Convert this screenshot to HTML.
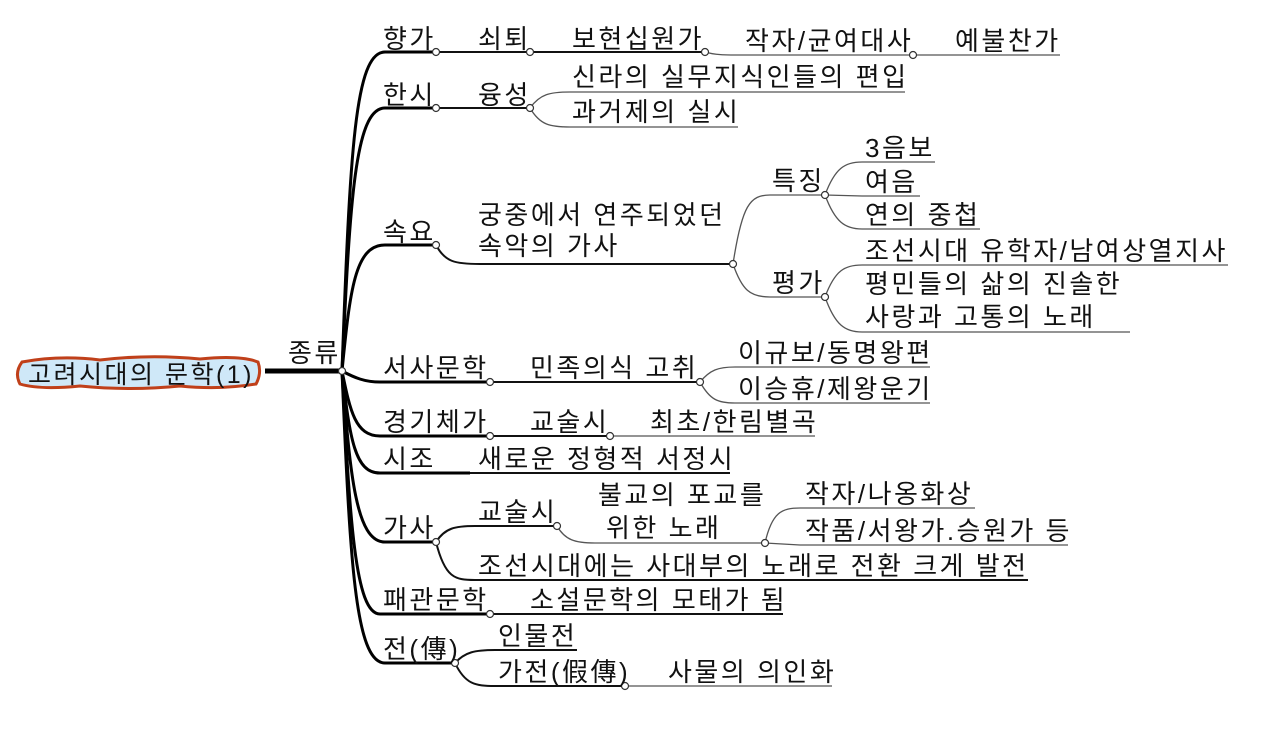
<!DOCTYPE html>
<html><head><meta charset="utf-8"><style>
html,body{margin:0;padding:0;background:#fff;}
svg{display:block;}
text{font-family:"Liberation Sans","Noto Sans CJK KR","NanumGothic",sans-serif;font-size:26px;letter-spacing:2.5px;fill:#111;}
.l1{stroke:#000;stroke-width:3;fill:none;}
.l2{stroke:#111;stroke-width:2;fill:none;}
.l3{stroke:#555;stroke-width:1.3;fill:none;}
circle{fill:#fff;stroke:#333;stroke-width:1.2;}
</style></head><body>
<svg width="1266" height="731" viewBox="0 0 1266 731" xmlns="http://www.w3.org/2000/svg">
<path d="M22,362 Q60,355 100,360 Q150,354 200,359 Q240,355 258,362 Q262,373 256,384 Q220,390 180,386 Q130,391 80,386 Q40,390 20,384 Q14,373 22,362 Z" fill="#cfe8f8" stroke="#c0401a" stroke-width="3"/>
<text x="28" y="383" style="font-size:25px">고려시대의 문학(1)</text>
<line x1="265" y1="371" x2="342" y2="371" stroke="#000" stroke-width="5"/>
<text x="288" y="362">종류</text>
<g class="l1">
<path d="M342,371 C350,150 355,52 385,52"/><line x1="385" y1="52" x2="436" y2="52"/>
<path d="M342,371 C350,200 355,108 385,108"/><line x1="385" y1="108" x2="436" y2="108"/>
<path d="M342,371 C350,290 355,245 385,245"/><line x1="385" y1="245" x2="436" y2="245"/>
<path d="M342,371 C355,378 365,382 380,382"/><line x1="380" y1="382" x2="490" y2="382"/>
<path d="M342,371 C350,410 355,436 380,436"/><line x1="380" y1="436" x2="490" y2="436"/>
<path d="M342,371 C350,440 355,473 380,473"/><line x1="380" y1="473" x2="470" y2="473"/>
<path d="M342,371 C350,470 355,542 385,542"/><line x1="385" y1="542" x2="436" y2="542"/>
<path d="M342,371 C350,520 355,614 380,614"/><line x1="380" y1="614" x2="490" y2="614"/>
<path d="M342,371 C350,560 355,663 385,663"/><line x1="385" y1="663" x2="455" y2="663"/>
</g>
<g class="l2">
<line x1="436" y1="52" x2="530" y2="52"/>
<line x1="530" y1="52" x2="705" y2="52"/>
<line x1="436" y1="108" x2="530" y2="108"/>
<path d="M436,245 C445,262 455,264 480,264 L733,264"/>
<line x1="490" y1="382" x2="700" y2="382"/>
<line x1="490" y1="436" x2="610" y2="436"/>
<line x1="470" y1="473" x2="730" y2="473"/>
<path d="M436,542 C445,528 455,526 475,526 L557,526"/>
<path d="M436,542 C445,578 455,580 475,580 L1028,580"/>
<line x1="490" y1="614" x2="783" y2="614"/>
<path d="M455,663 C465,652 475,650 495,650 L577,650"/>
<path d="M455,663 C465,684 475,686 495,686 L625,686"/>
</g>
<g class="l3">
<path d="M705,52 C715,55 725,55 740,55 L913,55 L1060,55"/>
<path d="M530,108 C540,94 550,92 570,92 L905,92"/>
<path d="M530,108 C540,125 550,127 570,127 L738,127"/>
<path d="M733,264 C742,205 750,195 770,195 L825,195"/>
<path d="M733,264 C742,290 750,297 770,297 L825,297"/>
<path d="M825,195 C835,168 845,162 862,162 L935,162"/>
<path d="M825,195 L862,196 L920,196"/>
<path d="M825,195 C835,222 845,229 862,229 L980,229"/>
<path d="M825,297 C835,270 845,265 862,265 L1228,265"/>
<path d="M825,297 C835,325 845,332 862,332 L1130,332"/>
<path d="M700,382 C710,370 718,367 735,367 L930,367"/>
<path d="M700,382 C710,400 718,403 735,403 L930,403"/>
<path d="M610,436 L815,436"/>
<path d="M557,526 C565,540 575,543 595,543 L765,543"/>
<path d="M765,543 C772,512 782,508 800,508 L975,508"/>
<path d="M765,543 L800,545 L1068,545"/>
<path d="M625,686 L832,686"/>
</g>
<g>
<circle cx="342" cy="371" r="3.5"/>
<circle cx="436" cy="52" r="3.5"/><circle cx="530" cy="52" r="3.5"/><circle cx="705" cy="52" r="3.5"/><circle cx="913" cy="55" r="3.5"/>
<circle cx="436" cy="108" r="3.5"/><circle cx="530" cy="108" r="3.5"/>
<circle cx="436" cy="245" r="3.5"/><circle cx="733" cy="264" r="3.5"/><circle cx="825" cy="195" r="3.5"/><circle cx="825" cy="297" r="3.5"/>
<circle cx="490" cy="382" r="3.5"/><circle cx="700" cy="382" r="3.5"/>
<circle cx="490" cy="436" r="3.5"/><circle cx="610" cy="436" r="3.5"/>
<circle cx="436" cy="542" r="3.5"/><circle cx="557" cy="526" r="3.5"/><circle cx="765" cy="543" r="3.5"/>
<circle cx="490" cy="614" r="3.5"/>
<circle cx="455" cy="663" r="3.5"/><circle cx="625" cy="686" r="3.5"/>
</g>
<text x="383" y="48">향가</text>
<text x="478" y="48">쇠퇴</text>
<text x="572" y="48">보현십원가</text>
<text x="745" y="50">작자/균여대사</text>
<text x="955" y="50">예불찬가</text>
<text x="383" y="104">한시</text>
<text x="478" y="104">융성</text>
<text x="572" y="86">신라의 실무지식인들의 편입</text>
<text x="572" y="121">과거제의 실시</text>
<text x="383" y="241">속요</text>
<text x="478" y="224">궁중에서 연주되었던</text>
<text x="478" y="255">속악의 가사</text>
<text x="772" y="190">특징</text>
<text x="772" y="292">평가</text>
<text x="865" y="157">3음보</text>
<text x="865" y="191">여음</text>
<text x="865" y="224">연의 중첩</text>
<text x="865" y="260">조선시대 유학자/남여상열지사</text>
<text x="865" y="293">평민들의 삶의 진솔한</text>
<text x="865" y="326">사랑과 고통의 노래</text>
<text x="383" y="377">서사문학</text>
<text x="530" y="377">민족의식 고취</text>
<text x="738" y="362">이규보/동명왕편</text>
<text x="738" y="398">이승휴/제왕운기</text>
<text x="383" y="431">경기체가</text>
<text x="530" y="431">교술시</text>
<text x="650" y="431">최초/한림별곡</text>
<text x="383" y="468">시조</text>
<text x="478" y="468">새로운 정형적 서정시</text>
<text x="383" y="537">가사</text>
<text x="478" y="521">교술시</text>
<text x="598" y="504">불교의 포교를</text>
<text x="606" y="537">위한 노래</text>
<text x="805" y="503">작자/나옹화상</text>
<text x="805" y="540">작품/서왕가.승원가 등</text>
<text x="478" y="575">조선시대에는 사대부의  노래로 전환 크게 발전</text>
<text x="383" y="609">패관문학</text>
<text x="530" y="609">소설문학의 모태가 됨</text>
<text x="383" y="658">전(傳)</text>
<text x="498" y="645">인물전</text>
<text x="498" y="681">가전(假傳)</text>
<text x="668" y="681">사물의 의인화</text>
</svg>
</body></html>
